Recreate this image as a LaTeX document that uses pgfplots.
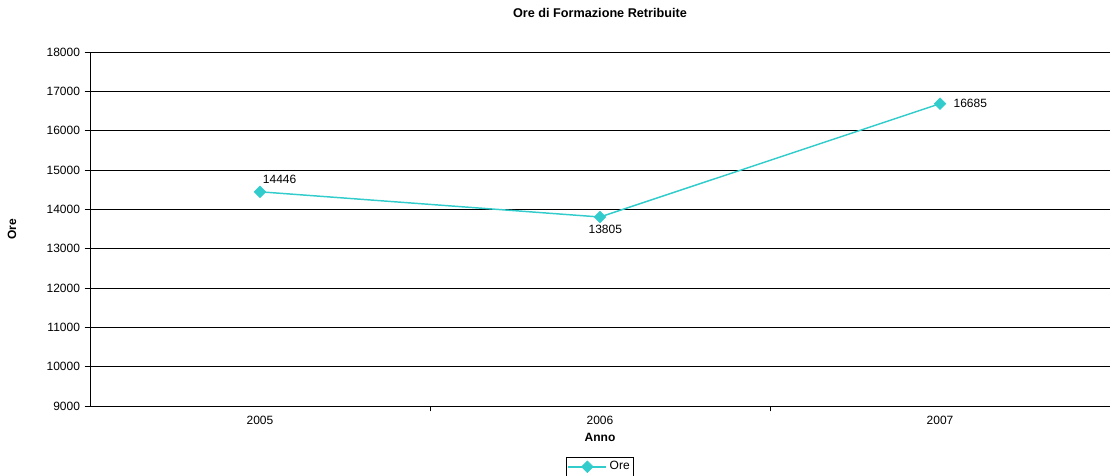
\documentclass[border=0pt]{standalone}
\usepackage{pgfplots}
\pgfplotsset{compat=1.18}
\usepackage{fontspec}
\setmainfont{Liberation Sans}
\definecolor{turq}{HTML}{33CCCC}
\begin{document}
\begin{tikzpicture}[x=0.75pt,y=0.75pt]
\begin{axis}[
  at={(0,0)}, anchor=south west,
  scale only axis,
  width=765pt, height=265.5pt,
  xmin=0.5, xmax=3.5,
  ymin=9000, ymax=18000,
  ytick distance=1000,
  scaled y ticks=false,
  yticklabel style={/pgf/number format/fixed, /pgf/number format/set thousands separator={}},
  xtick={1,2,3},
  xticklabels={2005,2006,2007},
  minor xtick={1.5,2.5},
  axis x line*=bottom,
  axis y line*=left,
  axis line style={black, thin},
  ymajorgrids,
  grid style={black, thin},
  tick style={black, thin},
  major tick length=4pt,
  minor tick length=4pt,
  tick align=outside,
  xtick style={draw=none},
  minor x tick style={draw=black},
  tick label style={font=\fontsize{9}{10}\selectfont},
  /pgf/number format/assume math mode=true,
  xlabel={\textbf{Anno}},
  ylabel={\textbf{Ore}},
  label style={font=\fontsize{9}{10}\selectfont},
  ylabel style={at={(axis description cs:-0.0765,0.5)}, anchor=center},
  title={\textbf{Ore di Formazione Retribuite}},
  title style={font=\fontsize{9.5}{11}\selectfont, yshift=16pt},
  legend style={at={(0.5,-0.145)}, anchor=north, draw=black, thin,
    font=\fontsize{9}{10}\selectfont, inner sep=1pt,
    legend cell align=left},
  legend image code/.code={
    \draw[#1, mark repeat=2, mark phase=2] plot coordinates {(0cm,0cm) (0.5cm,0cm) (1cm,0cm)};},
  nodes near coords,
  point meta=explicit symbolic,
  every node near coord/.append style={font=\fontsize{9}{10}\selectfont, text=black},
]
\addplot[color=turq, line width=1.1pt, mark=square*, mark size=3.1pt,
  mark options={fill=turq, draw=turq, rotate=45, line width=0.4pt},
  visualization depends on={value \thisrow{pos} \as \lblpos},
  visualization depends on={\thisrow{dx} \as \dx},
  visualization depends on={\thisrow{dy} \as \dy},
  every node near coord/.append style={anchor=\lblpos, inner sep=5pt,
    xshift=\dx pt, yshift=\dy pt}]
  table[meta=lbl] {
  x y lbl pos dx dy
  1 14446 14446 {south west} -3 1
  2 13805 13805 north 4 -1
  3 16685 16685 west 5 0
};
\addlegendentry{Ore}
\end{axis}
\pgfresetboundingbox
\path (-90,-69) rectangle (1020,406);
\end{tikzpicture}
\end{document}
